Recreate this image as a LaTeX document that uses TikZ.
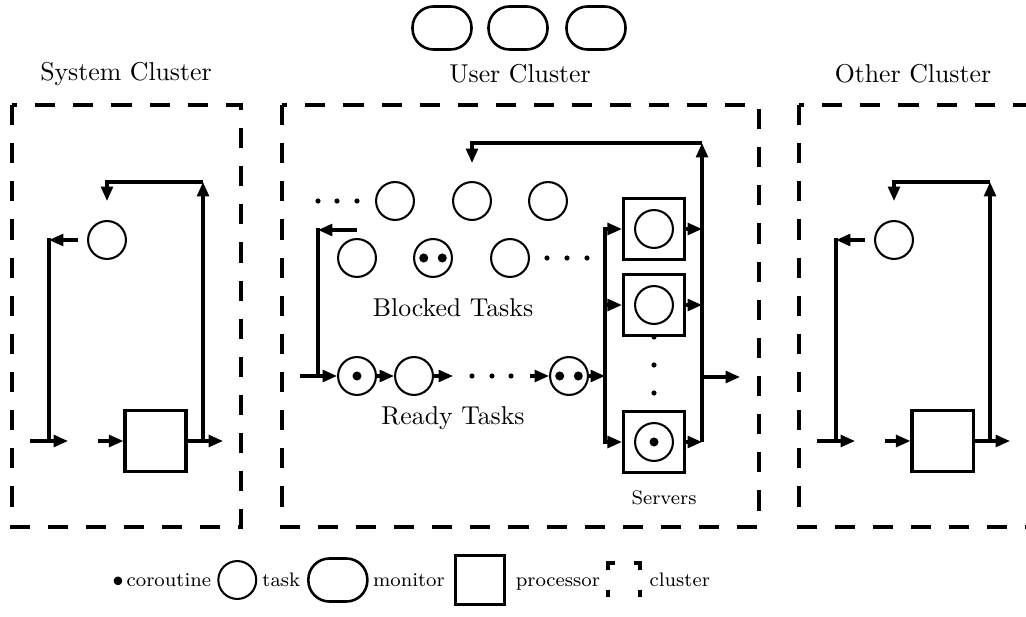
\documentclass[tikz,border=0pt]{standalone}
\usetikzlibrary{positioning, arrows.meta}

\tikzset{
    task/.style={circle, draw, line width=0.8pt, minimum size=14.7pt, inner sep=0pt},
    proc/.style={rectangle, draw, line width=1.2pt, minimum size=23.7pt, inner sep=0pt},
    monitor/.style={rectangle, rounded corners=8.2pt, draw, line width=1pt,
                    minimum width=22.9pt, minimum height=16.7pt, inner sep=0pt},
    cluster/.style={draw, line width=1.5pt, dash pattern=on 7.8pt off 7pt},
    flow/.style={line width=1.2pt, -{Triangle[length=5.6pt, width=4.6pt]}},
    link/.style={line width=1.2pt, line cap=rect},
    smalltext/.style={font=\fontsize{7.6}{9}\selectfont, inner sep=0pt,
                      text height=1.5ex, text depth=0.25ex},
}

\begin{document}
\begin{tikzpicture}[x=0.388pt, y=-0.388pt]
    \useasboundingbox (0,0) rectangle (1026,617);

    % monitors
    \node[monitor] (mon1) at (442,28) {};
    \node[monitor] (mon2) at (518,28) {};
    \node[monitor] (mon3) at (596,28) {};

    % system cluster
    \draw[cluster] (12,105) rectangle (241,527);
    \node (systitle) at (126,74) {System Cluster};
    \node[task] (systask) at (107,240) {};
    \node[proc] (sysproc) at (155.5,441) {};
    \coordinate (sysin) at (30,441);
    \coordinate (sysinend) at (68,441);
    \coordinate (sysprocin) at (98,441);
    \coordinate (sysout) at (223,441);
    \coordinate (sysup) at (203,441);
    \coordinate (systr) at (203,182);
    \coordinate (systl) at (107,182);
    \coordinate (sysdown) at (107,201);
    \coordinate (sysback) at (78,240);
    \coordinate (sysl) at (49,240);
    \coordinate (syslb) at (49,441);
    \draw[flow] (sysin) -- (sysinend);
    \draw[flow] (sysprocin) -- (sysproc);
    \draw[flow] (sysproc) -- (sysout);
    \draw[flow] (sysup) -- (systr);
    \draw[flow] (systr) -- (systl) -- (sysdown);
    \draw[flow] (sysback) -- (sysl);
    \draw[link] (sysl) -- (syslb);

    % user cluster
    \draw[cluster] (282,105) rectangle (759,527);
    \node (usertitle) at (520,74) {User Cluster};

    % blocked tasks
    \foreach \x in {318, 337, 357} \fill (\x,201) circle (1pt);
    \node[task] (blk1) at (395,201) {};
    \node[task] (blk2) at (472,201) {};
    \node[task] (blk3) at (548,201) {};
    \node[task] (blk4) at (357,258) {};
    \node[task] (blk5) at (433,258) {};
    \fill ([xshift=-3.6pt]blk5.center) circle (1.75pt);
    \fill ([xshift=3.6pt]blk5.center) circle (1.75pt);
    \node[task] (blk6) at (510,258) {};
    \foreach \x in {547, 567, 587} \fill (\x,258) circle (1pt);
    \node (blklabel) at (453,308) {Blocked Tasks};
    \coordinate (blkback) at (357,230);
    \coordinate (blkl) at (318,230);
    \coordinate (blklb) at (318,376);
    \draw[flow] (blkback) -- (blkl);
    \draw[link] (blkl) -- (blklb);

    % ready tasks
    \coordinate (rdyin) at (300,376);
    \node[task] (rdy1) at (357,376) {};
    \fill (rdy1) circle (1.75pt);
    \node[task] (rdy2) at (414,376) {};
    \coordinate (rdy2out) at (453,376);
    \foreach \x in {472, 492, 511} \fill (\x,376) circle (1pt);
    \coordinate (rdy3in) at (530,376);
    \node[task] (rdy3) at (569,376) {};
    \fill ([xshift=-3.6pt]rdy3.center) circle (1.75pt);
    \fill ([xshift=3.6pt]rdy3.center) circle (1.75pt);
    \coordinate (rdyout) at (605,376);
    \node (rdylabel) at (453,418) {Ready Tasks};
    \draw[flow] (rdyin) -- (rdy1);
    \draw[flow] (rdy1) -- (rdy2);
    \draw[flow] (rdy2) -- (rdy2out);
    \draw[flow] (rdy3in) -- (rdy3);
    \draw[flow] (rdy3) -- (rdyout);

    % servers
    \node[proc] (srv1) at (654,229) {};
    \node[task] (srvt1) at (srv1) {};
    \node[proc] (srv2) at (654,305) {};
    \node[task] (srvt2) at (srv2) {};
    \node[proc] (srv3) at (654,442) {};
    \node[task] (srvt3) at (srv3) {};
    \fill (srvt3) circle (1.75pt);
    \foreach \y in {337, 365, 393} \fill (654,\y) circle (1pt);
    \node[smalltext] (srvlabel) at (664,498) {Servers};
    \coordinate (srvinT) at (605,229);
    \coordinate (srvinM) at (605,305);
    \coordinate (srvinB) at (605,442);
    \coordinate (srvoutT) at (702,229);
    \coordinate (srvoutM) at (702,305);
    \coordinate (srvoutB) at (702,442);
    \coordinate (usertr) at (702,143);
    \coordinate (usertl) at (472,143);
    \coordinate (userdown) at (472,163);
    \coordinate (userexit) at (702,377);
    \coordinate (userexitend) at (740,377);
    \draw[link] (srvinT) -- (srvinB);
    \draw[flow] (srvinT) -- (srv1);
    \draw[flow] (srvinM) -- (srv2);
    \draw[flow] (srvinB) -- (srv3);
    \draw[flow] (srv1) -- (srvoutT);
    \draw[flow] (srv2) -- (srvoutM);
    \draw[flow] (srv3) -- (srvoutB);
    \draw[flow] (srvoutB) -- (usertr);
    \draw[flow] (usertr) -- (usertl) -- (userdown);
    \draw[flow] (userexit) -- (userexitend);

    % other cluster
    \draw[cluster] (799,105) rectangle (1028,527);
    \node (othtitle) at (913,74) {Other Cluster};
    \node[task] (othtask) at (894,240) {};
    \node[proc] (othproc) at (942.5,441) {};
    \coordinate (othin) at (817,441);
    \coordinate (othinend) at (855,441);
    \coordinate (othprocin) at (885,441);
    \coordinate (othout) at (1010,441);
    \coordinate (othup) at (990,441);
    \coordinate (othtr) at (990,182);
    \coordinate (othtl) at (894,182);
    \coordinate (othdown) at (894,201);
    \coordinate (othback) at (865,240);
    \coordinate (othl) at (836,240);
    \coordinate (othlb) at (836,441);
    \draw[flow] (othin) -- (othinend);
    \draw[flow] (othprocin) -- (othproc);
    \draw[flow] (othproc) -- (othout);
    \draw[flow] (othup) -- (othtr);
    \draw[flow] (othtr) -- (othtl) -- (othdown);
    \draw[flow] (othback) -- (othl);
    \draw[link] (othl) -- (othlb);

    % legend
    \node[smalltext, anchor=west] (lgcoro) at (112,580) {$\bullet$\,coroutine};
    \node[task, right=2.2pt of lgcoro] (lgtask) {};
    \node[smalltext, right=1.8pt of lgtask] (lgtasktxt) {task};
    \node[monitor, right=2.5pt of lgtasktxt] (lgmon) {};
    \node[smalltext, right=1.5pt of lgmon] (lgmontxt) {monitor};
    \node[proc, minimum size=19pt, right=3.5pt of lgmontxt] (lgproc) {};
    \node[smalltext, right=3.5pt of lgproc] (lgproctxt) {processor};
    \node[minimum width=12pt, minimum height=13pt, inner sep=0pt,
          right=3pt of lgproctxt] (lgclus) {};
    \draw[line width=1.5pt] ([yshift=-3pt]lgclus.north west) |- ([xshift=2.5pt]lgclus.north west);
    \draw[line width=1.5pt] ([yshift=-3pt]lgclus.north east) |- ([xshift=-2.5pt]lgclus.north east);
    \draw[line width=1.5pt] ([yshift=3pt]lgclus.south west) -- (lgclus.south west);
    \draw[line width=1.5pt] ([yshift=3pt]lgclus.south east) -- (lgclus.south east);
    \node[smalltext, right=3.5pt of lgclus] (lgclustxt) {cluster};
\end{tikzpicture}
\end{document}
